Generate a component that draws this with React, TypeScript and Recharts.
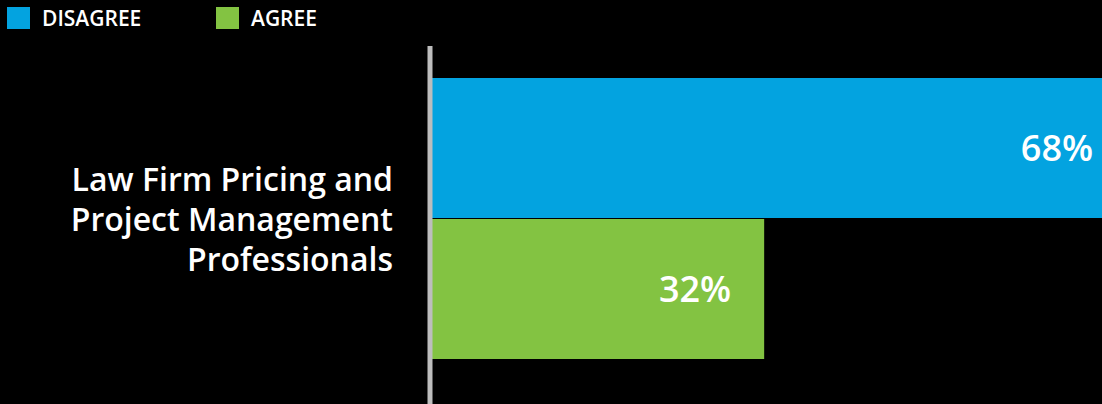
import React from "react"
import { BarChart, Bar, XAxis, YAxis, LabelList } from "recharts"

// categories use "\n" to mark where the axis label wraps
const categories = ["Law Firm Pricing and\nProject Management\nProfessionals"]
const disagreeValues = [68]
const agreeValues = [32]
const seriesKeys = ["disagree", "agree"]
const seriesNames = ["DISAGREE", "AGREE"]
const seriesColors = ["#03a3e0", "#83c342"]

const data = categories.map((category, i) => ({
  category,
  disagree: disagreeValues[i],
  agree: agreeValues[i],
}))

const FONT = "'Open Sans', 'Noto Sans', sans-serif"

function CategoryTick(props: any) {
  const { x, y, payload } = props
  const lines: string[] = String(payload.value).split("\n")
  const lineHeight = 40
  const startDy = -((lines.length - 1) / 2) * lineHeight
  return (
    <text
      x={x}
      y={y}
      textAnchor="end"
      fill="#ffffff"
      fontSize={32}
      fontWeight={600}
      fontFamily={FONT}
    >
      {lines.map((line, i) => (
        <tspan key={i} x={x} dy={i === 0 ? startDy : lineHeight} dominantBaseline="central">
          {line}
        </tspan>
      ))}
    </text>
  )
}

export default function App() {
  return (
    <div
      style={{
        position: "absolute",
        left: 0,
        top: 0,
        width: 1102,
        height: 404,
        overflow: "hidden",
        background: "#000",
        fontFamily: FONT,
      }}
    >
      {/* Legend */}
      <div style={{ position: "absolute", left: 7, top: 7, display: "flex", zIndex: 2 }}>
        {seriesNames.map((name, i) => (
          <div key={name} style={{ display: "flex", alignItems: "center", width: 209, height: 22 }}>
            <span style={{ width: 23, height: 22, background: seriesColors[i], display: "inline-block" }} />
            <span
              style={{
                marginLeft: 12,
                color: "#fff",
                fontSize: 21,
                fontWeight: 600,
                lineHeight: "22px",
              }}
            >
              {name}
            </span>
          </div>
        ))}
      </div>

      <BarChart
        layout="vertical"
        width={1161}
        height={404}
        data={data}
        margin={{ top: 46, right: 0, bottom: 0, left: 0 }}
        barCategoryGap={32}
        barGap={1}
      >
        <XAxis type="number" domain={[0, 70]} hide />
        {seriesKeys.map((key, i) => (
          <Bar key={key} dataKey={key} name={seriesNames[i]} fill={seriesColors[i]} isAnimationActive={false}>
            <LabelList
              dataKey={key}
              position="insideRight"
              offset={i === 0 ? 47 : 33}
              formatter={(v: any) => `${v}%`}
              fill="#ffffff"
              fontSize={36}
              fontWeight={600}
              fontFamily={FONT}
            />
          </Bar>
        ))}
        <YAxis
          type="category"
          dataKey="category"
          width={430}
          axisLine={{ stroke: "#bdbdbd", strokeWidth: 5 }}
          tickLine={false}
          tickSize={0}
          tickMargin={37}
          padding={{ top: 0, bottom: 13 }}
          tick={<CategoryTick />}
        />
      </BarChart>
    </div>
  )
}
